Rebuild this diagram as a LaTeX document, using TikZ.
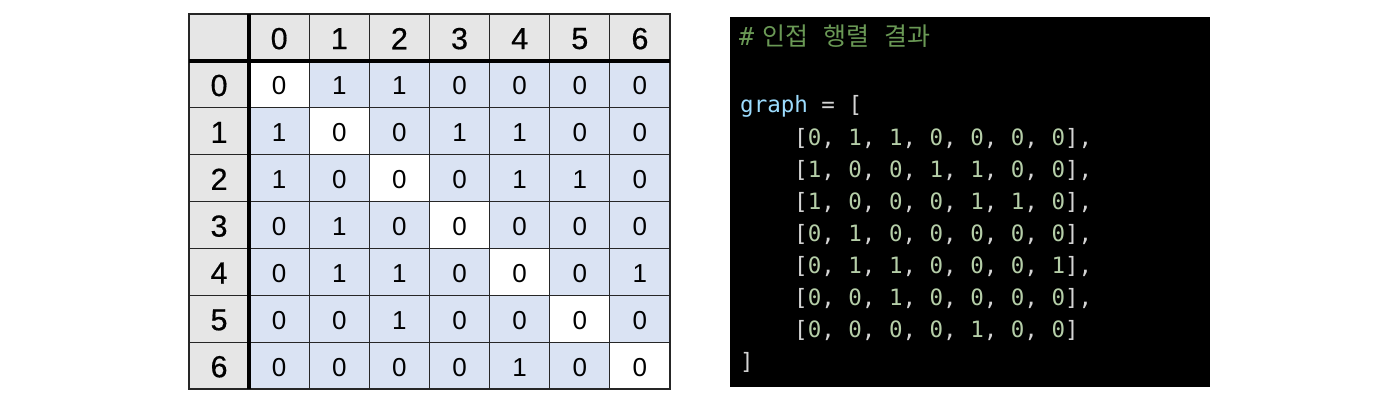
\documentclass[tikz,border=0pt]{standalone}
\usepackage{fontspec}
\setmainfont{Liberation Sans}
\newfontfamily\hdrfont[FakeBold=0.5]{Liberation Sans}
\newfontfamily\codefont{DejaVu Sans Mono}
\newfontfamily\kofont{Noto Sans CJK KR}
\definecolor{hdrgray}{HTML}{E6E6E6}
\definecolor{cellblue}{HTML}{DAE3F3}
\definecolor{cmtgreen}{HTML}{6A9955}
\definecolor{varblue}{HTML}{9CDCFE}
\definecolor{pungray}{HTML}{D4D4D4}
\definecolor{numgreen}{HTML}{B5CEA8}
\newcommand\bk[1]{\textcolor{pungray}{#1}}
\newcommand\nm[1]{\textcolor{numgreen}{#1}}
\newcommand\coderow[8]{\bk{[}\nm{#1}\bk{, }\nm{#2}\bk{, }\nm{#3}\bk{, }\nm{#4}\bk{, }\nm{#5}\bk{, }\nm{#6}\bk{, }\nm{#7}\bk{]#8}}
\begin{document}
\begin{tikzpicture}[x=1pt,y=-1pt,
  hdr/.style={inner sep=0pt, font=\hdrfont\fontsize{30.5}{36}\selectfont},
  val/.style={inner sep=0pt, font=\fontsize{26}{31}\selectfont},
  codeline/.style={inner sep=0pt, anchor=base west, font=\codefont\fontsize{22.5}{27}\selectfont}]
\useasboundingbox (0,0) rectangle (1397,407);
% ---------- table ----------
\def\cw{60.125}\def\rh{46.875}
% header fills
\fill[hdrgray] (189,14) rectangle (670,14+\rh);
\fill[hdrgray] (189,14) rectangle (189+\cw,389);
% body fills
\fill[cellblue] (189+\cw,14+\rh) rectangle (670,389);
\foreach \k in {0,...,6}{
  \fill[white] ({189+(\k+1)*\cw},{14+(\k+1)*\rh}) rectangle ({189+(\k+2)*\cw},{14+(\k+2)*\rh});
}
% grid
\foreach \k in {1,...,8}{
  \draw[line width=1.1pt, black!85] ({189+\k*\cw},14) -- ({189+\k*\cw},389);
  \draw[line width=1.1pt, black!85] (189,{14+\k*\rh}) -- (670,{14+\k*\rh});
}
\draw[line width=1.3pt, black!85] (189,14) rectangle (670,389);
\draw[line width=4pt, black] (189+\cw,14) -- (189+\cw,389);
\draw[line width=4pt, black] (189,14+\rh) -- (670,14+\rh);
% header labels
\foreach \k in {0,...,6}{
  \node[hdr] (ch\k) at ({189+(\k+1.5)*\cw},{14+0.5*\rh+1.2}) {\k};
  \node[hdr] (rh\k) at ({189+0.5*\cw},{14+(\k+1.5)*\rh+1.2}) {\k};
}
% values
\foreach \r/\vals in {0/{0,1,1,0,0,0,0},1/{1,0,0,1,1,0,0},2/{1,0,0,0,1,1,0},3/{0,1,0,0,0,0,0},4/{0,1,1,0,0,0,1},5/{0,0,1,0,0,0,0},6/{0,0,0,0,1,0,0}}{
  \foreach \v [count=\c from 0] in \vals {
    \node[val] (v\r-\c) at ({189+(\c+1.5)*\cw},{14+(\r+1.5)*\rh+1.5}) {\v};
  }
}
% ---------- code panel ----------
\fill[black] (730,17) rectangle (1210,387);
\node[inner sep=0pt, anchor=base west, font=\codefont\fontsize{25}{30}\selectfont] (cmt) at (739,45) {\textcolor{cmtgreen}{\#}};
\node[inner sep=0pt, anchor=base west, font=\kofont\fontsize{25}{30}\selectfont, text=cmtgreen] (cmtko) at (762,45) {인접\hspace{15pt}행렬\hspace{15pt}결과};
\node[codeline] (gl) at (740,112) {\textcolor{varblue}{graph} \bk{= [}};
\node[codeline] (r0) at (794,145) {\coderow0110000,};
\node[codeline] (r1) at (794,177) {\coderow1001100,};
\node[codeline] (r2) at (794,209) {\coderow1000110,};
\node[codeline] (r3) at (794,241) {\coderow0100000,};
\node[codeline] (r4) at (794,273) {\coderow0110001,};
\node[codeline] (r5) at (794,305) {\coderow0010000,};
\node[codeline] (r6) at (794,337) {\coderow0000100{}};
\node[codeline] (end) at (740,369) {\bk{]}};
\end{tikzpicture}
\end{document}
